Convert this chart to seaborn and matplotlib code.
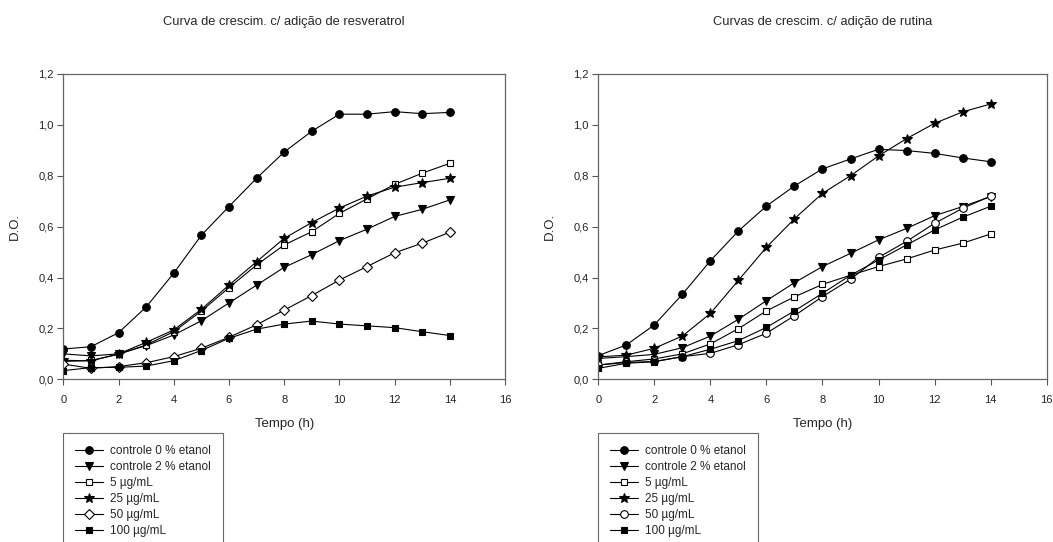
import matplotlib
matplotlib.use("Agg")
import matplotlib.pyplot as plt
from matplotlib.ticker import MultipleLocator, FuncFormatter
import seaborn as sns
import pandas as pd

# Sampling times (h)
tempo = list(range(15))

series_labels = ["controle 0 % etanol", "controle 2 % etanol", "5 µg/mL",
                 "25 µg/mL", "50 µg/mL", "100 µg/mL"]

# Optical density, resveratrol assay
resv_ctrl0 = [0.119, 0.128, 0.183, 0.284, 0.417, 0.566, 0.679, 0.790, 0.893, 0.975, 1.042, 1.042, 1.052, 1.044, 1.049]
resv_ctrl2 = [0.100, 0.092, 0.100, 0.132, 0.174, 0.230, 0.300, 0.370, 0.440, 0.490, 0.545, 0.590, 0.640, 0.668, 0.705]
resv_5 = [0.070, 0.074, 0.098, 0.135, 0.187, 0.268, 0.360, 0.449, 0.528, 0.580, 0.652, 0.709, 0.766, 0.810, 0.849]
resv_25 = [0.075, 0.072, 0.100, 0.145, 0.194, 0.275, 0.370, 0.462, 0.554, 0.616, 0.673, 0.720, 0.755, 0.773, 0.790]
resv_50 = [0.060, 0.043, 0.050, 0.065, 0.089, 0.122, 0.165, 0.214, 0.272, 0.329, 0.390, 0.443, 0.497, 0.535, 0.578]
resv_100 = [0.034, 0.046, 0.047, 0.052, 0.073, 0.113, 0.161, 0.197, 0.217, 0.229, 0.217, 0.210, 0.203, 0.187, 0.172]

# Optical density, rutin assay
rut_ctrl0 = [0.093, 0.135, 0.214, 0.334, 0.466, 0.583, 0.681, 0.760, 0.827, 0.866, 0.904, 0.899, 0.888, 0.870, 0.855]
rut_ctrl2 = [0.082, 0.089, 0.098, 0.124, 0.170, 0.236, 0.309, 0.380, 0.443, 0.495, 0.548, 0.593, 0.643, 0.679, 0.718]
rut_5 = [0.056, 0.069, 0.080, 0.100, 0.139, 0.199, 0.269, 0.324, 0.373, 0.409, 0.443, 0.473, 0.508, 0.535, 0.571]
rut_25 = [0.088, 0.095, 0.122, 0.170, 0.259, 0.389, 0.519, 0.631, 0.731, 0.800, 0.878, 0.946, 1.006, 1.051, 1.082]
rut_50 = [0.056, 0.066, 0.070, 0.089, 0.102, 0.136, 0.181, 0.250, 0.325, 0.393, 0.479, 0.542, 0.613, 0.672, 0.720]
rut_100 = [0.043, 0.063, 0.069, 0.089, 0.118, 0.152, 0.204, 0.269, 0.338, 0.409, 0.469, 0.528, 0.587, 0.637, 0.680]

titles = ["Curva de crescim. c/ adição de resveratrol",
          "Curvas de crescim. c/ adição de rutina"]

sns.set_style("white")
plt.rcParams["font.family"] = ["Liberation Sans", "DejaVu Sans"]

fig = plt.figure(figsize=(10.53, 5.42), dpi=100)
ax_left = fig.add_axes([0.0601, 0.3002, 0.4195, 0.5633])
ax_right = fig.add_axes([0.5682, 0.3002, 0.4258, 0.5633])

panels = [
    (ax_left, [resv_ctrl0, resv_ctrl2, resv_5, resv_25, resv_50, resv_100],
     [("o", "black"), ("v", "black"), ("s", "white"), ("*", "black"), ("D", "white"), ("s", "black")]),
    (ax_right, [rut_ctrl0, rut_ctrl2, rut_5, rut_25, rut_50, rut_100],
     [("o", "black"), ("v", "black"), ("s", "white"), ("*", "black"), ("o", "white"), ("s", "black")]),
]

marker_sizes = {"o": 5.5, "v": 6, "s": 5, "*": 7, "D": 4.6}

comma = FuncFormatter(lambda v, p: f"{v:.1f}".replace(".", ","))

for i, (ax, values, styles) in enumerate(panels):
    for label, vals, (mk, fc) in zip(series_labels, values, styles):
        df = pd.DataFrame({"Tempo": tempo, "DO": vals})
        sns.lineplot(data=df, x="Tempo", y="DO", ax=ax, color="black",
                     linewidth=0.8, marker=mk, markersize=marker_sizes[mk],
                     markerfacecolor=fc, markeredgecolor="black",
                     markeredgewidth=0.8, label=label, legend=False)
    ax.set_xlim(0, 16)
    ax.set_ylim(0, 1.2)
    ax.xaxis.set_major_locator(MultipleLocator(2))
    ax.yaxis.set_major_locator(MultipleLocator(0.2))
    ax.yaxis.set_major_formatter(comma)
    ax.tick_params(axis="both", which="major", direction="out", length=4,
                   width=0.8, color="#555555", labelsize=8,
                   bottom=True, left=True, top=False, right=False,
                   labelcolor="#222222")
    ax.tick_params(axis="x", pad=7)
    ax.tick_params(axis="y", pad=3)
    for sp in ax.spines.values():
        sp.set_color("#666666")
        sp.set_linewidth(0.9)
    ax.set_xlabel("Tempo (h)", fontsize=9.5, labelpad=10)
    ax.set_ylabel("D.O.", fontsize=9.5)
    ax.yaxis.set_label_coords(-0.095, 0.5)
    ax.set_title(titles[i], fontsize=9.3, pad=35)

    handles, labels = ax.get_legend_handles_labels()
    x0 = ax.get_position().x0
    leg = fig.legend(handles, labels, loc="upper left",
                     bbox_to_anchor=(x0, 1 - 433 / 542), fontsize=8.5,
                     frameon=True, fancybox=False, edgecolor="#444444",
                     handlelength=2.35, handletextpad=0.6, labelspacing=0.35,
                     borderpad=1.0, borderaxespad=0)
    leg.get_frame().set_linewidth(0.8)

fig.savefig("out.png", dpi=100)
